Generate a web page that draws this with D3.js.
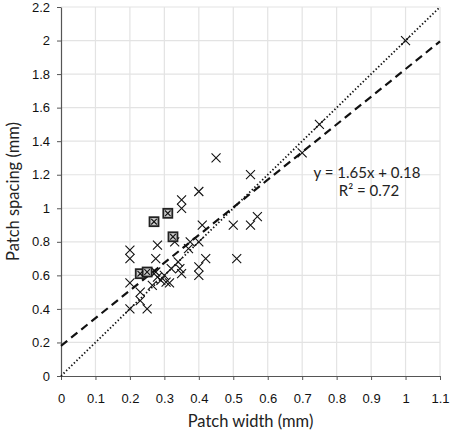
<!DOCTYPE html>
<html><head><meta charset="utf-8">
<script src="https://cdn.jsdelivr.net/npm/d3@7"></script>
<style>body{margin:0;background:#fff}svg{display:block}</style>
</head><body>
<script>
const xTicks = [0,0.1,0.2,0.3,0.4,0.5,0.6,0.7,0.8,0.9,1,1.1];
const yTicks = [0,0.2,0.4,0.6,0.8,1,1.2,1.4,1.6,1.8,2,2.2];
const crossX = [1.0,0.75,0.70,0.45,0.55,0.40,0.35,0.35,0.41,0.50,0.55,0.57,0.33,0.375,0.40,0.37,0.28,0.20,0.20,0.275,0.42,0.51,0.34,0.40,0.40,0.35,0.345,0.32,0.275,0.28,0.29,0.305,0.315,0.265,0.20,0.23,0.23,0.20,0.25,0.30];
const crossY = [2.0,1.5,1.33,1.30,1.20,1.10,1.05,1.00,0.90,0.90,0.90,0.95,0.80,0.80,0.80,0.76,0.78,0.75,0.70,0.70,0.70,0.70,0.68,0.65,0.60,0.61,0.64,0.64,0.62,0.59,0.57,0.56,0.555,0.54,0.555,0.50,0.45,0.40,0.40,0.60];
const boxX = [0.27,0.31,0.325,0.23,0.25];
const boxY = [0.92,0.97,0.83,0.61,0.62];
const slope = 1.65, intercept = 0.18, r2 = 0.72;

const W = 450, H = 433;
const m = {l:61, r:10, t:7, b:57};
const svg = d3.select("body").append("svg").attr("width",W).attr("height",H);
const x = d3.scaleLinear().domain([0,1.1]).range([m.l, W-m.r]);
const y = d3.scaleLinear().domain([0,2.2]).range([H-m.b, m.t]);

// grid
svg.append("g").selectAll("line.vx").data(xTicks.slice(1)).join("line")
  .attr("x1",d=>x(d)).attr("x2",d=>x(d)).attr("y1",y(0)).attr("y2",y(2.2))
  .attr("stroke","#e3e3e3").attr("stroke-width",1.2);
svg.append("g").selectAll("line.hy").data(yTicks.slice(1)).join("line")
  .attr("x1",x(0)).attr("x2",x(1.1)).attr("y1",d=>y(d)).attr("y2",d=>y(d))
  .attr("stroke","#e3e3e3").attr("stroke-width",1.2);

// axes
const fmt = d=>String(+d.toFixed(1));
const xa = svg.append("g").attr("transform",`translate(0,${y(0)})`)
  .call(d3.axisBottom(x).tickValues(xTicks).tickFormat(fmt).tickSize(4).tickSizeOuter(0));
const ya = svg.append("g").attr("transform",`translate(${x(0)},0)`)
  .call(d3.axisLeft(y).tickValues(yTicks).tickFormat(fmt).tickSize(4).tickSizeOuter(0));
[xa,ya].forEach(a=>{
  a.select(".domain").attr("stroke","#555").attr("stroke-width",1.2);
  a.selectAll(".tick line").attr("stroke","#555");
  a.selectAll("text").attr("font-family","'Liberation Sans',Arial,sans-serif").attr("font-size",13).attr("fill","#111");
});
xa.selectAll("text").attr("dy","1.55em");
ya.selectAll("text").attr("x",-11);

// lines
svg.append("line").attr("x1",x(0)).attr("y1",y(0)).attr("x2",x(1.1)).attr("y2",y(2.2))
  .attr("stroke","#111").attr("stroke-width",1.8).attr("stroke-dasharray","1.4,2.2");
svg.append("line").attr("x1",x(0)).attr("y1",y(intercept)).attr("x2",x(1.1)).attr("y2",y(slope*1.1+intercept))
  .attr("stroke","#111").attr("stroke-width",2.2).attr("stroke-dasharray","8,5");

// markers
const s = 4.5;
const crosses = d3.range(crossX.length).map(i=>[crossX[i],crossY[i]]);
const boxes = d3.range(boxX.length).map(i=>[boxX[i],boxY[i]]);
const cg = svg.append("g").attr("stroke","#111").attr("stroke-width",1.1).attr("fill","none");
cg.selectAll("path").data(crosses).join("path")
  .attr("d",d=>{const cx=x(d[0]),cy=y(d[1]);return `M${cx-s},${cy-s}L${cx+s},${cy+s}M${cx-s},${cy+s}L${cx+s},${cy-s}`;});
const bg = svg.append("g");
bg.selectAll("rect").data(boxes).join("rect")
  .attr("x",d=>x(d[0])-4.5).attr("y",d=>y(d[1])-4.5).attr("width",9).attr("height",9)
  .attr("fill","#ccc").attr("stroke","#222").attr("stroke-width",1.8);
bg.selectAll("path").data(boxes).join("path")
  .attr("stroke","#111").attr("stroke-width",1.1)
  .attr("d",d=>{const cx=x(d[0]),cy=y(d[1]),k=2.8;return `M${cx-k},${cy-k}L${cx+k},${cy+k}M${cx-k},${cy+k}L${cx+k},${cy-k}`;});

// equation
const ef = "Lato,'Open Sans',sans-serif";
svg.append("text").attr("x",367).attr("y",178).attr("text-anchor","middle")
  .attr("font-family",ef).attr("font-size",15).attr("fill","#222")
  .text(`y = ${slope}x + ${intercept}`);
svg.append("text").attr("x",369).attr("y",196).attr("text-anchor","middle")
  .attr("font-family",ef).attr("font-size",15).attr("fill","#222")
  .text(`R² = ${r2}`);

// titles
svg.append("text").attr("x",(x(0)+x(1.1))/2).attr("y",427).attr("text-anchor","middle")
  .attr("font-family",ef).attr("font-size",16.5).attr("fill","#222").text("Patch width (mm)");
svg.append("text").attr("transform",`translate(19,${(y(0)+y(2.2))/2}) rotate(-90)`).attr("text-anchor","middle")
  .attr("font-family",ef).attr("font-size",16.5).attr("fill","#222").text("Patch spacing (mm)");
</script>
</body></html>
